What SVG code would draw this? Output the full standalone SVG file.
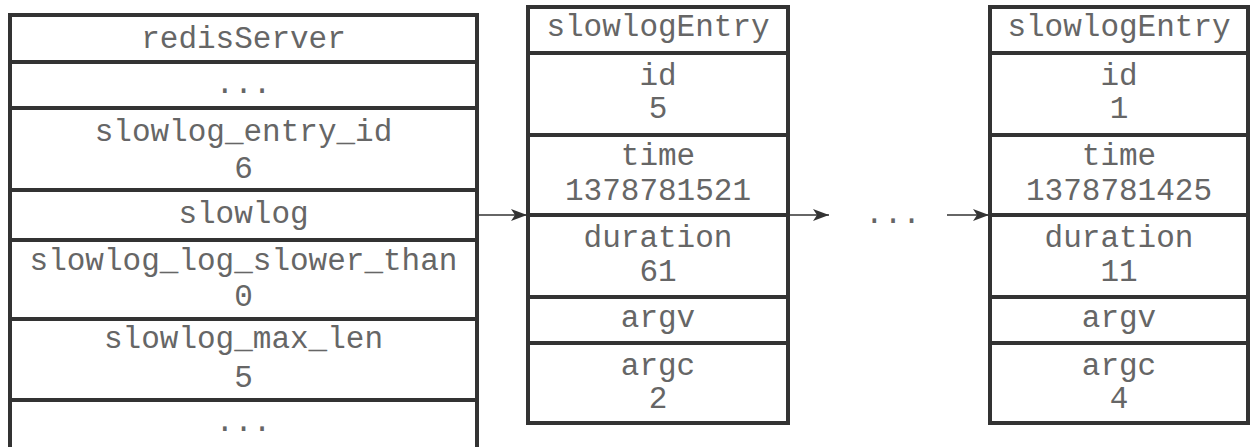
<svg xmlns="http://www.w3.org/2000/svg" width="1251" height="447" viewBox="0 0 1251 447">
<style>
.box{fill:#fff;stroke:#333;stroke-width:4}
.sep{stroke:#333;stroke-width:4}
.t{font-family:"Liberation Mono","Courier New",monospace;font-size:31px;fill:#666;text-anchor:middle}
.con{stroke:#333;stroke-width:1.6;fill:none}
</style>
<defs>
<marker id="ah" markerWidth="16" markerHeight="12" refX="16" refY="6" orient="auto" markerUnits="userSpaceOnUse">
<path d="M0,0 L16,6 L0,12 L4,6 Z" fill="#333"/>
</marker>
</defs>
<rect width="1251" height="447" fill="#fff"/>
<g id="redisServer">
<rect class="box" x="10" y="15" width="467" height="445"/>
<line class="sep" x1="10" y1="62" x2="477" y2="62"/>
<line class="sep" x1="10" y1="108" x2="477" y2="108"/>
<line class="sep" x1="10" y1="190" x2="477" y2="190"/>
<line class="sep" x1="10" y1="240" x2="477" y2="240"/>
<line class="sep" x1="10" y1="319" x2="477" y2="319"/>
<line class="sep" x1="10" y1="400" x2="477" y2="400"/>
<text class="t" x="243.5" y="48">redisServer</text>
<text class="t" x="243.5" y="93">...</text>
<text class="t" x="243.5" y="141">slowlog_entry_id</text>
<text class="t" x="243.5" y="178">6</text>
<text class="t" x="243.5" y="223">slowlog</text>
<text class="t" x="243.5" y="270">slowlog_log_slower_than</text>
<text class="t" x="243.5" y="306">0</text>
<text class="t" x="243.5" y="348">slowlog_max_len</text>
<text class="t" x="243.5" y="387">5</text>
<text class="t" x="243.5" y="431">...</text>
</g>
<g id="entry5">
<rect class="box" x="528" y="7" width="260" height="416"/>
<line class="sep" x1="528" y1="53" x2="788" y2="53"/>
<line class="sep" x1="528" y1="135" x2="788" y2="135"/>
<line class="sep" x1="528" y1="215" x2="788" y2="215"/>
<line class="sep" x1="528" y1="297" x2="788" y2="297"/>
<line class="sep" x1="528" y1="343" x2="788" y2="343"/>
<text class="t" x="658" y="36">slowlogEntry</text>
<text class="t" x="658" y="85">id</text>
<text class="t" x="658" y="118">5</text>
<text class="t" x="658" y="165">time</text>
<text class="t" x="658" y="200">1378781521</text>
<text class="t" x="658" y="247">duration</text>
<text class="t" x="658" y="281">61</text>
<text class="t" x="658" y="327">argv</text>
<text class="t" x="658" y="375">argc</text>
<text class="t" x="658" y="408">2</text>
</g>
<g id="entry1">
<rect class="box" x="990" y="7" width="258" height="416"/>
<line class="sep" x1="990" y1="53" x2="1248" y2="53"/>
<line class="sep" x1="990" y1="135" x2="1248" y2="135"/>
<line class="sep" x1="990" y1="215" x2="1248" y2="215"/>
<line class="sep" x1="990" y1="297" x2="1248" y2="297"/>
<line class="sep" x1="990" y1="343" x2="1248" y2="343"/>
<text class="t" x="1119" y="36">slowlogEntry</text>
<text class="t" x="1119" y="85">id</text>
<text class="t" x="1119" y="118">1</text>
<text class="t" x="1119" y="165">time</text>
<text class="t" x="1119" y="200">1378781425</text>
<text class="t" x="1119" y="247">duration</text>
<text class="t" x="1119" y="281">11</text>
<text class="t" x="1119" y="327">argv</text>
<text class="t" x="1119" y="375">argc</text>
<text class="t" x="1119" y="408">4</text>
</g>
<g id="ellipsis">
<text class="t" x="893" y="223">...</text>
</g>
<g id="connectors">
<line class="con" x1="479" y1="215" x2="527" y2="215" marker-end="url(#ah)"/>
<line class="con" x1="790" y1="215" x2="829" y2="215" marker-end="url(#ah)"/>
<line class="con" x1="947" y1="215" x2="989" y2="215" marker-end="url(#ah)"/>
</g>
</svg>
